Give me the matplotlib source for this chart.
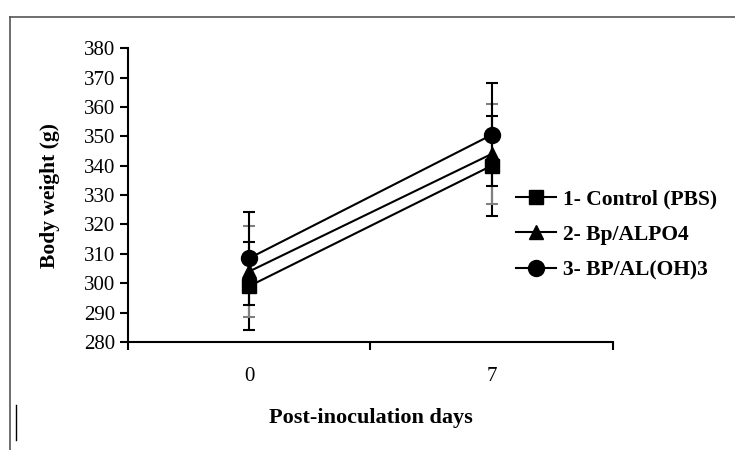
import matplotlib.pyplot as plt
from matplotlib.lines import Line2D

# data
days = ["0", "7"]
labels = ["1- Control (PBS)", "2- Bp/ALPO4", "3- BP/AL(OH)3"]
control = [299, 340]
control_err = [15, 17]
alpo4 = [304, 344]
alpo4_err = [15.5, 17]
aloh3 = [308.5, 350.5]
aloh3_err = [15.8, 17.5]

series = [control, alpo4, aloh3]
errors = [control_err, alpo4_err, aloh3_err]
markers = ["s", "^", "o"]
msizes = [10, 10, 11.5]
ecolors = ["black", "#808080", "black"]

plt.rcParams['font.family'] = ['Liberation Serif', 'DejaVu Serif']

fig = plt.figure(figsize=(7.35, 4.5), dpi=100)
ax = fig.add_axes([0.174, 0.24, 0.66, 0.653])

xpos = [i + 0.5 for i in range(len(days))]
for vals, err, m, ms, ec in zip(series, errors, markers, msizes, ecolors):
    ax.errorbar(xpos, vals, yerr=err, fmt="none", ecolor=ec, elinewidth=1.5,
                capsize=4, capthick=1.5, zorder=2)
for vals, m, ms in zip(series, markers, msizes):
    ax.plot(xpos, vals, color="black", lw=1.5, marker=m, markersize=ms, zorder=3)

ax.set_xlim(0, len(days))
ax.set_ylim(280, 380)
ax.set_yticks(range(280, 381, 10))
ax.set_xticks([0, 1, 2])
ax.set_xticklabels([])
ax.set_xticks(xpos, minor=True)
ax.set_xticklabels(days, minor=True)
ax.tick_params(axis="x", which="minor", length=0, pad=18, labelsize=15)
ax.tick_params(axis="x", which="major", length=6, width=1.5, direction="out")
ax.tick_params(axis="y", length=6, width=1.5, direction="out", labelsize=15, pad=3)
for s in ["top", "right"]:
    ax.spines[s].set_visible(False)
for s in ["left", "bottom"]:
    ax.spines[s].set_linewidth(1.5)

ax.set_ylabel("Body weight (g)", fontsize=15.5, fontweight="bold", labelpad=17)
ax.set_xlabel("Post-inoculation days", fontsize=16, fontweight="bold", labelpad=16)

handles = [Line2D([0], [0], color="black", lw=1.5, marker=m, markersize=ms)
           for m, ms in zip(markers, msizes)]
fig.legend(handles, labels, loc="upper left", bbox_to_anchor=(0.675, 0.623),
           frameon=False, prop={"size": 15.5, "weight": "bold"},
           handlelength=1.9, handletextpad=0.3, labelspacing=0.72)

# outer frame lines
fig.add_artist(Line2D([10 / 735, 1.0], [1 - 17 / 450, 1 - 17 / 450], color="#555555", lw=1.2))
fig.add_artist(Line2D([10 / 735, 10 / 735], [0, 1 - 17 / 450], color="#555555", lw=1.2))
fig.add_artist(Line2D([16 / 735, 16 / 735], [1 - 440 / 450, 1 - 405 / 450], color="black", lw=1))

fig.savefig("out.png", dpi=100)
